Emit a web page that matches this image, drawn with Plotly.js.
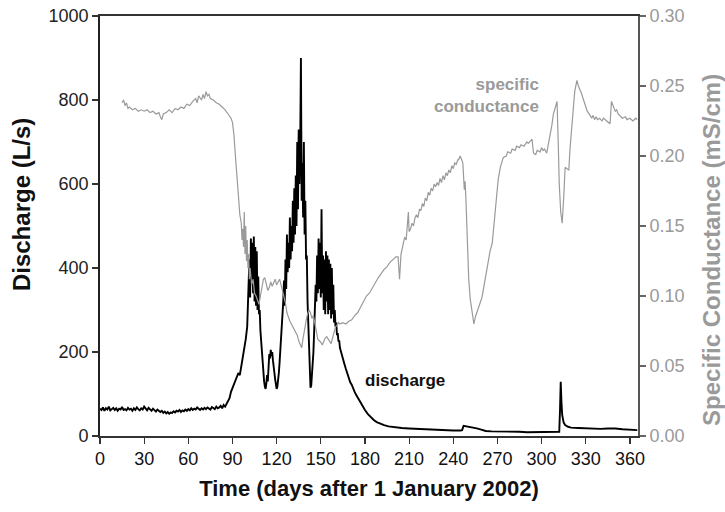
<!DOCTYPE html>
<html>
<head>
<meta charset="utf-8">
<script src="https://cdn.plot.ly/plotly-3.0.1.min.js"></script>
<style>html,body{margin:0;padding:0;background:#fff;}#chart{width:725px;height:512px;}</style>
</head>
<body>
<div id="chart"></div>
<script>
// Discharge (L/s) vs day
const qDay = [0,1,2,3,4,5,6,7,8,9,10,11,12,13,14,15,16,17,18,19,20,21,22,23,24,25,26,27,28,29,30,31,32,33,34,35,36,37,38,39,40,41,42,43,44,45,46,47,48,49,50,51,52,53,54,55,56,57,58,59,60,61,62,63,64,65,66,67,68,69,70,71,72,73,74,75,76,77,78,79,80,81,82,83,84,85,86,87,88,89,90,91,92,93,94,95,96,97,98,99,100,100.5,101,
101.5,102,102.5,103,103.5,104,104.5,105,105.5,106,106.5,107,107.5,108,108.5,109,109.5,110,110.5,111,111.5,112,112.5,113,113.5,114,114.5,115,115.5,116,116.5,117,117.5,118,118.5,119,119.5,120,120.5,121,121.5,122,122.5,123,123.5,124,124.5,125,125.5,126,126.5,127,127.5,128,128.5,129,129.5,130,130.5,131,131.5,132,132.5,133,133.5,134,134.5,135,135.5,136,136.5,137,137.5,138,138.5,139,139.5,140,140.5,141,141.5,142,142.5,143,143.5,144,144.5,145,145.5,146,146.5,147,147.5,148,148.5,149,149.5,150,150.5,151,151.5,152,152.5,153,153.5,154,154.5,155,155.5,156,156.5,157,157.5,158,158.5,159,159.5,160,160.5,161,161.5,162,162.5,163,164,165,166,167,168,169,170,171,172,173,174,175,176,177,178,179,180,182,184,186,188,190,193,196,200,205,210,215,220,225,230,235,240,245,246,247,250,253,256,259,262,266,270,275,280,285,290,295,300,305,310,312,312.5,313,313.5,314,315,316,318,320,325,330,335,340,345,350,355,360,365];
const qVal = [65,62,68,60,66,63,70,61,64,67,62,66,60,65,63,69,62,64,61,67,63,65,60,66,62,68,64,61,66,63,70,64,61,67,63,60,65,62,58,63,59,57,60,55,58,54,57,53,56,55,59,56,60,58,62,57,61,59,63,60,64,61,66,62,65,63,68,64,62,66,63,67,64,68,65,63,69,66,64,70,66,68,72,66,74,70,76,82,90,105,115,125,130,140,150,145,165,180,205,230,260,300,340,
420,330,470,360,460,340,475,320,450,310,440,300,380,290,300,250,220,200,170,150,130,118,112,125,145,130,170,195,185,205,190,200,180,170,150,135,125,112,118,130,150,175,200,230,260,300,320,370,310,420,350,480,390,460,400,520,420,500,440,560,460,590,480,620,500,700,540,730,600,690,900,560,650,520,700,480,560,420,430,320,260,200,150,115,120,145,170,200,250,300,360,320,430,340,470,350,460,330,540,340,430,300,420,290,440,320,430,290,420,300,410,280,400,290,360,270,300,260,270,240,245,225,228,210,195,182,172,160,148,140,128,122,112,105,98,92,85,78,72,66,62,52,44,38,33,30,26,23,21,19,18,17,16,15,14,14,13,13,14,24,22,21,18,15,12,11,11,10,10,10,9,9,9,9,9,10,60,129,80,50,32,26,22,20,19,18,17,17,18,18,16,15,14];

// Specific conductance (mS/cm) vs day
const cDay = [15,16,17,18,19,20,22,24,26,28,30,32,34,36,38,40,41,42,43,45,47,49,51,53,55,57,59,61,63,65,66,67,69,70,71,72,73,74,75,77,79,81,83,85,87,89,90,91,92,93,94,95,96,96.5,97,97.5,98,98.5,99,99.5,100,100.5,101,101.5,102,103,104,105,106,107,108,109,110,111,112,113,114,115,116,117,118,119,120,121,122,123,124,125,126,127,128,129,130,131,132,133,134,135,136,137,138,139,140,141,142,143,144,145,146,147,148,149,150,151,152,153,154,155,156,157,158,159,160,161,162,163,165,167,169,171,173,175,177,179,181,183,185,187,189,191,193,195,197,199,201,202.5,203.5,204.5,206,207,208,209,209.5,210,211,212,213,214,215,216,217,218,219,220,221,222,223,224,225,226,227,228,229,230,231,232,233,234,235,236,237,238,239,240,241,242,243,244,244.6,245.5,246.5,247.5,248,248.5,249.5,250.5,251.5,252.5,253.5,254,255,256,257,258,259.5,261,263,265,266.5,267.5,268.5,269.5,270.5,272,274,276,277,279,280,282,283,285,286,288,290,291,293.5,294.5,296,297,299,300,301,302,303.5,304.5,305.7,307,308,309.5,310.5,311.3,312,313,314,315,316,317,318.5,319.3,320.5,321.5,322.5,324,325,327,329,331,333,334,335,336,337,338,339.5,341,342,344,346.5,347.5,348.5,350,351,352,354,355,357,358,360,362,364,365];
const cVal = [0.238,0.240,0.236,0.238,0.234,0.235,0.233,0.234,0.232,0.233,0.232,0.233,0.231,0.232,0.230,0.231,0.228,0.226,0.230,0.231,0.233,0.231,0.234,0.233,0.235,0.234,0.237,0.236,0.239,0.241,0.238,0.243,0.240,0.244,0.241,0.246,0.243,0.244,0.241,0.240,0.238,0.237,0.235,0.233,0.230,0.227,0.224,0.215,0.200,0.185,0.170,0.158,0.152,0.140,0.148,0.135,0.160,0.130,0.150,0.125,0.140,0.120,0.130,0.112,0.120,0.108,0.112,0.102,0.100,0.096,0.094,0.100,0.108,0.112,0.113,0.108,0.104,0.106,0.110,0.107,0.109,0.112,0.108,0.110,0.112,0.108,0.104,0.100,0.095,0.088,0.084,0.082,0.080,0.078,0.076,0.074,0.072,0.068,0.065,0.063,0.070,0.077,0.082,0.087,0.090,0.088,0.084,0.086,0.080,0.072,0.069,0.068,0.067,0.065,0.068,0.070,0.071,0.069,0.067,0.066,0.070,0.074,0.078,0.079,0.081,0.080,0.081,0.080,0.082,0.083,0.086,0.088,0.092,0.097,0.100,0.102,0.106,0.110,0.113,0.116,0.119,0.121,0.124,0.126,0.128,0.128,0.112,0.130,0.136,0.142,0.140,0.150,0.160,0.146,0.148,0.152,0.150,0.156,0.158,0.156,0.162,0.161,0.166,0.164,0.170,0.168,0.174,0.172,0.177,0.175,0.180,0.178,0.181,0.179,0.184,0.181,0.186,0.183,0.188,0.186,0.190,0.188,0.193,0.191,0.195,0.194,0.197,0.198,0.200,0.198,0.195,0.176,0.182,0.172,0.140,0.112,0.098,0.090,0.082,0.080,0.085,0.088,0.090,0.094,0.099,0.108,0.121,0.132,0.138,0.150,0.160,0.172,0.183,0.192,0.199,0.200,0.203,0.202,0.205,0.204,0.207,0.206,0.208,0.207,0.210,0.209,0.212,0.202,0.201,0.204,0.203,0.206,0.204,0.205,0.202,0.208,0.214,0.222,0.230,0.236,0.239,0.210,0.180,0.160,0.152,0.170,0.192,0.191,0.190,0.205,0.222,0.235,0.246,0.254,0.250,0.245,0.238,0.232,0.229,0.227,0.229,0.226,0.228,0.226,0.227,0.225,0.227,0.225,0.223,0.239,0.236,0.232,0.233,0.230,0.228,0.227,0.228,0.226,0.227,0.225,0.227,0.226];

const xTicks = [0,30,60,90,120,150,180,210,240,270,300,330,360];
const yTicks = [0,200,400,600,800,1000];
const y2Ticks = [0,0.05,0.10,0.15,0.20,0.25,0.30];

const FONT = 'Arial, "Liberation Sans", Helvetica, sans-serif';
const GREY = '#9a9a9a';

const traces = [
  {x: cDay, y: cVal, type: 'scatter', mode: 'lines', yaxis: 'y2',
   line: {color: GREY, width: 1.2}, hoverinfo: 'skip'},
  {x: qDay, y: qVal, type: 'scatter', mode: 'lines', yaxis: 'y',
   line: {color: '#000', width: 1.9}, hoverinfo: 'skip'}
];

const layout = {
  width: 725, height: 512,
  margin: {l: 100, r: 87, t: 16, b: 76, pad: 0},
  paper_bgcolor: '#fff', plot_bgcolor: '#fff',
  showlegend: false,
  font: {family: FONT, color: '#111'},
  xaxis: {
    range: [0, 365.5], tickvals: xTicks, ticktext: xTicks.map(String),
    ticks: 'outside', ticklen: 6, tickwidth: 1.2, tickcolor: '#333',
    showline: true, linecolor: '#333', linewidth: 1.6, mirror: true,
    showgrid: false, zeroline: false,
    tickfont: {size: 18, color: '#111', family: FONT},
    title: {text: 'Time (days after 1 January 2002)', font: {size: 22, color: '#111', family: FONT, weight: 'bold'}, standoff: 12}
  },
  yaxis: {
    range: [0, 1000], tickvals: yTicks, ticktext: yTicks.map(String),
    ticks: 'outside', ticklen: 6, tickwidth: 1.2, tickcolor: '#333',
    showline: true, linecolor: '#222', linewidth: 1.8,
    showgrid: false, zeroline: false,
    tickfont: {size: 18, color: '#222', family: FONT}
  },
  yaxis2: {
    overlaying: 'y', side: 'right',
    range: [0, 0.30], tickvals: y2Ticks, ticktext: y2Ticks.map(v => v.toFixed(2)),
    ticks: 'outside', ticklen: 6, tickwidth: 1.2, tickcolor: '#666',
    showline: true, linecolor: '#555', linewidth: 1.8,
    showgrid: false, zeroline: false,
    tickfont: {size: 18, color: GREY, family: FONT}
  },
  annotations: [
    {xref: 'paper', yref: 'paper', x: -0.147, y: 0.552, text: '<b>Discharge (L/s)</b>', textangle: -90,
     showarrow: false, font: {size: 24, color: '#111', family: FONT}, xanchor: 'center', yanchor: 'middle'},
    {xref: 'paper', yref: 'paper', x: 1.1375, y: 0.443, text: '<b>Specific Conductance (mS/cm)</b>', textangle: -90,
     showarrow: false, font: {size: 24, color: GREY, family: FONT}, xanchor: 'center', yanchor: 'middle'},
    {xref: 'x', yref: 'y2', x: 299.5, y: 0.243, text: '<b>specific<br>conductance</b>', align: 'right',
     showarrow: false, font: {size: 17, color: GREY, family: FONT}, xanchor: 'right', yanchor: 'middle'},
    {xref: 'x', yref: 'y', x: 207, y: 133, text: '<b>discharge</b>',
     showarrow: false, font: {size: 17, color: '#111', family: FONT}, xanchor: 'center', yanchor: 'middle'}
  ]
};

Plotly.newPlot('chart', traces, layout, {staticPlot: true, displayModeBar: false});
</script>
</body>
</html>
